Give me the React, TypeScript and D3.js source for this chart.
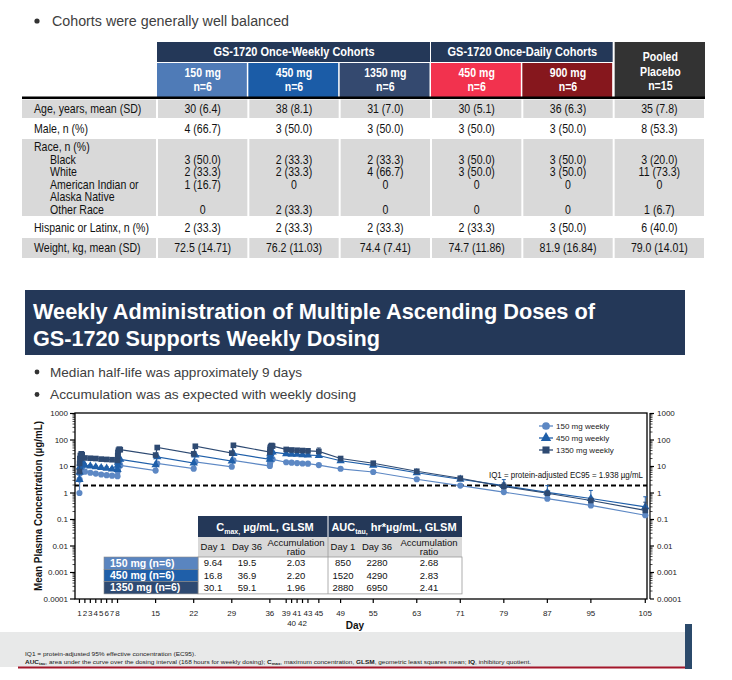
import React from 'react';
import * as d3 from 'd3';

// ---------------- DATA ----------------
const bulletTop = 'Cohorts were generally well balanced';
const weeklyGroupLabel = 'GS-1720 Once-Weekly Cohorts';
const dailyGroupLabel = 'GS-1720 Once-Daily Cohorts';
const cohortDoses = ['150 mg', '450 mg', '1350 mg', '450 mg', '900 mg'];
const cohortNs = ['n=6', 'n=6', 'n=6', 'n=6', 'n=6'];
const placeboLines = ['Pooled', 'Placebo', 'n=15'];

const ageValues = ['30 (6.4)', '38 (8.1)', '31 (7.0)', '30 (5.1)', '36 (6.3)', '35 (7.8)'];
const maleValues = ['4 (66.7)', '3 (50.0)', '3 (50.0)', '3 (50.0)', '3 (50.0)', '8 (53.3)'];
const blackValues = ['3 (50.0)', '2 (33.3)', '2 (33.3)', '3 (50.0)', '3 (50.0)', '3 (20.0)'];
const whiteValues = ['2 (33.3)', '2 (33.3)', '4 (66.7)', '3 (50.0)', '3 (50.0)', '11 (73.3)'];
const amIndValues = ['1 (16.7)', '0', '0', '0', '0', '0'];
const otherRaceValues = ['0', '2 (33.3)', '0', '0', '0', '1 (6.7)'];
const hispanicValues = ['2 (33.3)', '2 (33.3)', '2 (33.3)', '2 (33.3)', '3 (50.0)', '6 (40.0)'];
const weightValues = ['72.5 (14.71)', '76.2 (11.03)', '74.4 (7.41)', '74.7 (11.86)', '81.9 (16.84)', '79.0 (14.01)'];

const titleLines = ['Weekly Administration of Multiple Ascending Doses of', 'GS-1720 Supports Weekly Dosing'];
const bulletsChart = ['Median half-life was approximately 9 days', 'Accumulation was as expected with weekly dosing'];

const sampleDays = [
  1, 1.04, 1.08, 1.17, 1.33, 1.5,
  2, 3, 4, 5, 6, 7,
  8, 8.04, 8.08, 8.17, 8.33, 8.5,
  15, 15.3,
  22, 22.3,
  29, 29.3,
  36, 36.04, 36.08, 36.17, 36.33, 36.5,
  39, 40, 41, 42, 43,
  45, 49, 55, 63, 71, 79, 87, 95, 105,
];
const conc150 = [
  1.0, 3.2, 5.5, 7.8, 9.64, 9.0,
  6.4, 5.8, 5.4, 5.0, 4.7, 4.5,
  4.3, 6.5, 8.5, 10.5, 11.5, 11.0,
  7.0, 13.0,
  8.3, 15.0,
  9.8, 17.0,
  10.5, 13.0, 16.0, 18.5, 19.5, 18.5,
  14.5, 14.0, 13.5, 13.0, 12.8,
  11.3, 8.2, 6.2, 3.3, 1.9, 1.08, 0.61, 0.34, 0.145,
];
const conc450 = [
  3.2, 6.0, 9.5, 13.5, 16.8, 15.5,
  11.0, 10.3, 9.6, 9.0, 8.5, 8.0,
  7.6, 11.0, 14.5, 17.5, 19.5, 18.5,
  11.5, 23.0,
  13.5, 27.0,
  16.0, 31.0,
  18.5, 24.0, 30.0, 34.0, 36.9, 35.0,
  30.0, 29.0, 28.5, 27.5, 27.0,
  26.0, 16.5, 11.0, 5.8, 3.3, 1.9, 1.05, 0.62, 0.30,
];
const conc1350 = [
  6.5, 13.0, 20.0, 26.0, 30.1, 28.0,
  21.0, 20.5, 20.0, 19.0, 18.5, 18.0,
  17.0, 26.0, 34.0, 41.0, 45.0, 43.0,
  27.0, 52.0,
  30.0, 58.0,
  32.0, 63.0,
  35.0, 44.0, 52.0, 57.0, 62.0, 59.0,
  44.0, 42.0, 41.0, 40.0, 39.0,
  37.0, 20.0, 13.3, 6.6, 3.6, 1.75, 0.98, 0.52, 0.22,
];
// upper error bar tops
const err150Days = [95, 105];
const err150Top = [0.45, 0.2];
const err450Days = [2, 3, 4, 5, 6, 7, 79, 87, 95, 105];
const err450Top = [12.5, 11.8, 11.0, 10.4, 9.8, 9.3, 3.2, 1.9, 1.25, 0.72];
const err1350Days = [45, 79, 105];
const err1350Top = [50, 2.4, 0.45];

const seriesNames = ['150 mg weekly', '450 mg weekly', '1350 mg weekly'];
const yTicks = [0.0001, 0.001, 0.01, 0.1, 1, 10, 100, 1000];
const yTickLabels = ['0.0001', '0.001', '0.01', '0.1', '1', '10', '100', '1000'];
const xTickDays = [1, 2, 3, 4, 5, 6, 7, 8, 15, 22, 29, 36, 39, 40, 41, 42, 43, 45, 49, 55, 63, 71, 79, 87, 95, 105];
const xTickLowerRow = [40, 42];
const ec95 = 1.938;
const ec95Label = 'IQ1 = protein-adjusted EC95 = 1.938 µg/mL';

const insetRowLabels = ['150 mg (n=6)', '450 mg (n=6)', '1350 mg (n=6)'];
const cmaxDay1 = ['9.64', '16.8', '30.1'];
const cmaxDay36 = ['19.5', '36.9', '59.1'];
const cmaxRatio = ['2.03', '2.20', '1.96'];
const aucDay1 = ['850', '1520', '2880'];
const aucDay36 = ['2280', '4290', '6950'];
const aucRatio = ['2.68', '2.83', '2.41'];

// ---------------- STYLE ----------------
const NAVY = '#243858';
const GRAY_ROW = '#d9d9d9';
const TEXT_GRAY = '#404040';
const colHeaderColors = ['#4f7bb7', '#1b5ca7', '#34496f', '#f2324e', '#86171d'];
const seriesColors = ['#5d88c4', '#1f5fa9', '#2e4a72'];
const insetLabelColors = ['#5a85c0', '#1f5fa9', '#2e4a72'];
const SANS = "'Liberation Sans', Arial, sans-serif";

type NTProps = {
  x: number; y: number; size?: number; anchor?: string; weight?: string; fill?: string; sx?: number; children: React.ReactNode;
};
function NText({ x, y, size = 12, anchor = 'start', weight = 'normal', fill = '#111', sx = 0.88, children }: NTProps) {
  return (
    <text transform={`translate(${x},${y}) scale(${sx},1)`} dy="0.35em" textAnchor={anchor} fontSize={size} fontWeight={weight} fill={fill}>
      {children}
    </text>
  );
}

function TopTable() {
  const band = d3.scaleBand<number>().domain(d3.range(6)).range([157, 705]).paddingInner(0);
  const bw = band.bandwidth();
  const cx = (i: number) => (band(i) as number) + bw / 2;
  const rows = [
    { top: 99.5, h: 18.5, gray: true, labels: ['Age, years, mean (SD)'], ys: [108.5], vals: [ageValues] },
    { top: 119, h: 19, gray: false, labels: ['Male, n (%)'], ys: [128.5], vals: [maleValues] },
    {
      top: 139, h: 77, gray: true,
      labels: ['Race, n (%)', 'Black', 'White', 'American Indian or', 'Alaska Native', 'Other Race'],
      ys: [147, 159.5, 172, 184.5, 197, 209.5],
      vals: [null, blackValues, whiteValues, amIndValues, null, otherRaceValues],
    },
    { top: 217, h: 20, gray: false, labels: ['Hispanic or Latinx, n (%)'], ys: [227.5], vals: [hispanicValues] },
    { top: 238, h: 20, gray: true, labels: ['Weight, kg, mean (SD)'], ys: [248], vals: [weightValues] },
  ];
  return (
    <g>
      <rect x={band(0)} y={42} width={bw * 3 - 1} height={20} fill={NAVY} />
      <NText x={(band(0) as number) + bw * 1.5} y={52} anchor="middle" fill="#fff" size={12.5} weight="bold">{weeklyGroupLabel}</NText>
      <rect x={band(3)} y={42} width={bw * 2 - 1} height={20} fill={NAVY} />
      <NText x={(band(3) as number) + bw} y={52} anchor="middle" fill="#fff" size={12.5} weight="bold">{dailyGroupLabel}</NText>
      {cohortDoses.map((d, i) => (
        <g key={i}>
          <rect x={(band(i) as number)} y={63} width={bw - 1.5} height={34} fill={colHeaderColors[i]} />
          <NText x={cx(i)} y={73} anchor="middle" fill="#fff" size={12} weight="bold">{d}</NText>
          <NText x={cx(i)} y={87} anchor="middle" fill="#fff" size={12} weight="bold">{cohortNs[i]}</NText>
        </g>
      ))}
      <rect x={(band(5) as number) + 1} y={42} width={bw - 1} height={55} fill="#333333" />
      {placeboLines.map((t, j) => (
        <NText key={j} x={cx(5) + 1} y={57 + j * 14.5} anchor="middle" fill="#fff" size={12} weight="bold">{t}</NText>
      ))}
      <rect x={22} y={96.5} width={683} height={2.5} fill="#000" />
      {rows.map((r, ri) => (
        <g key={ri}>
          {r.gray && (
            <>
              <rect x={22} y={r.top} width={134} height={r.h} fill={GRAY_ROW} />
              {d3.range(6).map((c) => (
                <rect key={c} x={(band(c) as number) + 1} y={r.top} width={bw - 2} height={r.h} fill={GRAY_ROW} />
              ))}
            </>
          )}
          {r.labels.map((l, li) => (
            <NText key={li} x={li === 0 ? 34 : 50} y={r.ys[li]}>{l}</NText>
          ))}
          {r.vals.map((vs, li) => vs && vs.map((v, c) => (
            <NText key={`${li}-${c}`} x={cx(c)} y={r.ys[li]} anchor="middle">{v}</NText>
          )))}
        </g>
      ))}
    </g>
  );
}

function Chart() {
  const x = d3.scaleLinear().domain([0, 105.5]).range([74, 648]);
  const y = d3.scaleLog().domain([1e-4, 1e3]).range([599, 413.5]);
  const left = 75, right = 647, top = 413, bottom = 599;
  const series = [conc150, conc450, conc1350];
  const errs = [
    { d: err150Days, t: err150Top },
    { d: err450Days, t: err450Top },
    { d: err1350Days, t: err1350Top },
  ];
  const line = d3.line<[number, number]>().x((d) => x(d[0])).y((d) => y(d[1]));
  const minor: number[] = [];
  for (let e = -4; e < 3; e++) for (let k = 2; k <= 9; k++) minor.push(k * Math.pow(10, e));
  const sym = [d3.symbol(d3.symbolCircle, 30)(), d3.symbol(d3.symbolTriangle, 30)(), d3.symbol(d3.symbolSquare, 32)()];

  const inset = { x0: 198, x1: 462, xm: 328, hTop: 516, hBot: 537, sBot: 557, rowH: 12.3 };
  const insetColsX = [213, 247, 296, 343, 377, 429];
  const insetCols = [cmaxDay1, cmaxDay36, cmaxRatio, aucDay1, aucDay36, aucRatio];

  return (
    <g fontFamily={SANS}>
      <text transform={`translate(38,${(top + bottom) / 2}) rotate(-90)`} textAnchor="middle" dy="0.35em" fontSize={10} fontWeight="bold" textLength={170} lengthAdjust="spacingAndGlyphs" fill="#111">Mean Plasma Concentration (µg/mL)</text>
      <rect x={left} y={top} width={right - left} height={bottom - top} fill="none" stroke="#000" strokeWidth={1.3} />
      {yTicks.map((t, i) => (
        <g key={i}>
          <line x1={left - 5} x2={left} y1={y(t)} y2={y(t)} stroke="#000" strokeWidth={1.2} />
          <text x={68} y={y(t)} dy="0.35em" textAnchor="end" fontSize={8} fill="#222">{yTickLabels[i]}</text>
          <line x1={650} x2={654} y1={y(t)} y2={y(t)} stroke="#000" strokeWidth={1.2} />
          <text x={657} y={y(t)} dy="0.35em" fontSize={8} fill="#222">{yTickLabels[i]}</text>
        </g>
      ))}
      {minor.map((t, i) => (
        <g key={i}>
          <line x1={left - 2.5} x2={left} y1={y(t)} y2={y(t)} stroke="#000" strokeWidth={0.7} />
          <line x1={650} x2={652.5} y1={y(t)} y2={y(t)} stroke="#000" strokeWidth={0.7} />
        </g>
      ))}
      <line x1={650} x2={650} y1={top} y2={bottom} stroke="#000" strokeWidth={1.2} />
      {xTickDays.map((d, i) => {
        const lower = xTickLowerRow.includes(d);
        return (
          <g key={i}>
            <line x1={x(d)} x2={x(d)} y1={bottom} y2={bottom + 4} stroke="#000" strokeWidth={1.2} />
            <text x={x(d)} y={lower ? 623 : 613} dy="0.35em" textAnchor="middle" fontSize={8} fill="#222">{d}</text>
          </g>
        );
      })}
      <text x={355} y={625} dy="0.35em" textAnchor="middle" fontSize={10} fontWeight="bold" fill="#111">Day</text>

      <line x1={left} x2={right} y1={y(ec95)} y2={y(ec95)} stroke="#000" strokeWidth={2} strokeDasharray="5,3" />
      <text x={643} y={475} dy="0.35em" textAnchor="end" fontSize={8.5} fill="#111" textLength={154} lengthAdjust="spacingAndGlyphs">{ec95Label}</text>

      {series.map((vals, si) => {
        const pts: [number, number][] = sampleDays.map((d, i) => [d, vals[i]]);
        return (
          <g key={si}>
            {errs[si].d.map((d, i) => {
              const v = vals[sampleDays.indexOf(d)];
              return (
                <g key={i}>
                  <line x1={x(d)} x2={x(d)} y1={y(v)} y2={y(errs[si].t[i])} stroke={seriesColors[si]} strokeWidth={1} />
                  <line x1={x(d) - 2} x2={x(d) + 2} y1={y(errs[si].t[i])} y2={y(errs[si].t[i])} stroke={seriesColors[si]} strokeWidth={1} />
                </g>
              );
            })}
            <path d={line(pts) as string} fill="none" stroke={seriesColors[si]} strokeWidth={1.2} />
            {pts.map((p, i) => (
              <path key={i} d={sym[si] as string} transform={`translate(${x(p[0])},${y(p[1])})`} fill={seriesColors[si]} />
            ))}
          </g>
        );
      })}

      {seriesNames.map((n, i) => (
        <g key={i} transform={`translate(546,${426 + i * 12})`}>
          <line x1={-7} x2={7} y1={0} y2={0} stroke={seriesColors[i]} strokeWidth={1.3} />
          <path d={sym[i] as string} fill={seriesColors[i]} transform="scale(1.25)" />
          <text x={10} y={0} dy="0.35em" fontSize={8} fill="#222">{n}</text>
        </g>
      ))}

      <rect x={inset.x0} y={inset.hTop} width={inset.x1 - inset.x0} height={inset.hBot - inset.hTop} fill={NAVY} />
      <rect x={inset.x0} y={inset.hBot} width={inset.x1 - inset.x0} height={inset.sBot - inset.hBot} fill={GRAY_ROW} />
      <rect x={inset.x0} y={inset.sBot} width={inset.x1 - inset.x0} height={inset.rowH * 3} fill="#fff" stroke="#9a9a9a" strokeWidth={0.8} />
      <line x1={inset.xm} x2={inset.xm} y1={inset.hTop} y2={inset.hBot} stroke="#fff" strokeWidth={1} />
      <line x1={inset.xm} x2={inset.xm} y1={inset.hBot} y2={inset.sBot + inset.rowH * 3} stroke="#9a9a9a" strokeWidth={0.8} />
      <text x={265} y={527} dy="0.35em" textAnchor="middle" fontSize={11} fontWeight="bold" fill="#fff">
        C<tspan fontSize={7} dy="3">max,</tspan><tspan dy="-3"> µg/mL, GLSM</tspan>
      </text>
      <text x={394} y={527} dy="0.35em" textAnchor="middle" fontSize={11} fontWeight="bold" fill="#fff">
        AUC<tspan fontSize={7} dy="3">tau,</tspan><tspan dy="-3"> hr*µg/mL, GLSM</tspan>
      </text>
      {[0, 3].map((o) => (
        <g key={o} fontSize={9.5} fill="#111">
          <text x={insetColsX[o]} y={547} dy="0.35em" textAnchor="middle">Day 1</text>
          <text x={insetColsX[o + 1]} y={547} dy="0.35em" textAnchor="middle">Day 36</text>
          <text x={insetColsX[o + 2]} y={542.5} dy="0.35em" textAnchor="middle">Accumulation</text>
          <text x={insetColsX[o + 2]} y={552} dy="0.35em" textAnchor="middle">ratio</text>
        </g>
      ))}
      {insetRowLabels.map((l, r) => (
        <g key={r}>
          <rect x={104} y={inset.sBot + r * inset.rowH} width={inset.x0 - 104} height={inset.rowH} fill={insetLabelColors[r]} stroke="#8a8a8a" strokeWidth={0.6} />
          <text x={110} y={inset.sBot + r * inset.rowH + inset.rowH / 2} dy="0.35em" fontSize={10.5} fontWeight="bold" fill="#fff">{l}</text>
          {insetCols.map((col, c) => (
            <text key={c} x={insetColsX[c]} y={inset.sBot + r * inset.rowH + inset.rowH / 2} dy="0.35em" textAnchor="middle" fontSize={9.5} fill="#111">{col[r]}</text>
          ))}
        </g>
      ))}
    </g>
  );
}

export default function App() {
  return (
    <svg width={732} height={680} style={{ position: 'absolute', left: 0, top: 0, background: '#fff' }} fontFamily={SANS}>
      <circle cx={37} cy={21} r={2.6} fill="#333" />
      <text x={52} y={21} dy="0.35em" fontSize={14} fill={TEXT_GRAY} textLength={237} lengthAdjust="spacingAndGlyphs">{bulletTop}</text>
      <TopTable />
      <rect x={25} y={290} width={660} height={65} fill={NAVY} />
      {titleLines.map((t, i) => (
        <text key={i} x={33} y={311 + i * 27} dy="0.35em" fontSize={22} fontWeight="bold" fill="#fff" textLength={i === 0 ? 562 : 347} lengthAdjust="spacingAndGlyphs">{t}</text>
      ))}
      {bulletsChart.map((b, i) => (
        <g key={i}>
          <circle cx={37} cy={372 + i * 22.5} r={2.4} fill="#333" />
          <text x={50} y={372 + i * 22.5} dy="0.35em" fontSize={13} fill={TEXT_GRAY} textLength={i === 0 ? 252 : 306} lengthAdjust="spacingAndGlyphs">{b}</text>
        </g>
      ))}
      <Chart />
      <rect x={0} y={632} width={685} height={35} fill="#e8e9e9" />
      <rect x={18} y={666.5} width={667} height={2} fill="#a3172b" />
      <rect x={685} y={624} width={7} height={45} fill="#2b4a6b" />
      <text x={25} y={653.5} dy="0.35em" fontSize={6} fill="#222" textLength={171} lengthAdjust="spacingAndGlyphs">IQ1 = protein-adjusted 95% effective concentration (EC95).</text>
      <text x={25} y={661.5} dy="0.35em" fontSize={6} fill="#222" textLength={506} lengthAdjust="spacingAndGlyphs">
        <tspan fontWeight="bold">AUC</tspan><tspan fontWeight="bold" fontSize={4} dy="1.5">tau</tspan><tspan dy="-1.5">, area under the curve over the dosing interval (168 hours for weekly dosing); </tspan>
        <tspan fontWeight="bold">C</tspan><tspan fontWeight="bold" fontSize={4} dy="1.5">max</tspan><tspan dy="-1.5">, maximum concentration, </tspan>
        <tspan fontWeight="bold">GLSM</tspan><tspan>, geometric least squares mean; </tspan>
        <tspan fontWeight="bold">IQ</tspan><tspan>, inhibitory quotient.</tspan>
      </text>
    </svg>
  );
}
